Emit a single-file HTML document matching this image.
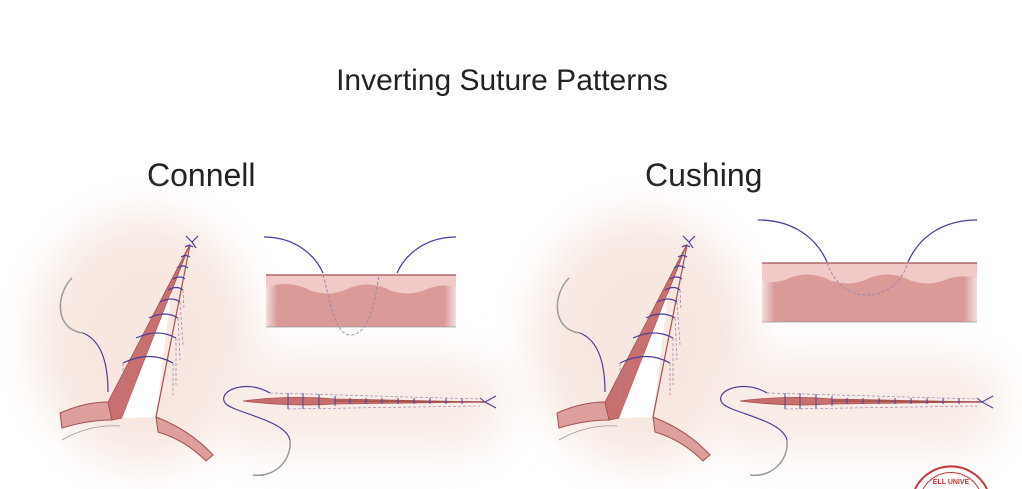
<!DOCTYPE html>
<html><head><meta charset="utf-8"><style>
html,body{margin:0;padding:0;background:#fff;width:1022px;height:489px;overflow:hidden}
svg{display:block}
</style></head><body>
<svg width="1022" height="489" viewBox="0 0 1022 489" xmlns="http://www.w3.org/2000/svg" style="overflow:hidden">
<defs>
<filter id="blur" x="-50%" y="-50%" width="200%" height="200%"><feGaussianBlur stdDeviation="22"/></filter>
<linearGradient id="xs" x1="0" x2="1" y1="0" y2="0">
<stop offset="0" stop-color="#d99a98" stop-opacity="0.3"/><stop offset="0.06" stop-color="#d99a98"/><stop offset="0.94" stop-color="#d99a98"/><stop offset="1" stop-color="#d99a98" stop-opacity="0.3"/></linearGradient>
<g id="panel">
<ellipse cx="145" cy="340" rx="110" ry="125" fill="#f7e7e0" filter="url(#blur)"/>
<rect x="215" y="360" width="290" height="90" rx="40" fill="#f8ebe5" filter="url(#blur)"/>
<!-- lower left tissue band -->
<path d="M60,413 Q85,402 108,402 L112,420 Q88,420 62,428 Z" fill="#dc9f9c" stroke="#a4504f" stroke-width="1"/>
<path d="M62,440 Q90,424 120,426" fill="none" stroke="#999" stroke-width="0.8"/>
<!-- wedge -->
<polygon points="108,402 190,244 122,418 112,420" fill="#c7706f" stroke="#a4504f" stroke-width="0.8"/>
<polygon points="122,418 171,293 156,417" fill="#fff"/>
<path d="M190,245 L156,417" stroke="#a4504f" stroke-width="1.2" fill="none"/>
<path d="M156,417 Q190,430 213,455 L206,461 Q185,440 158,432 Z" fill="#dc9f9c" stroke="#a4504f" stroke-width="1"/>
<!-- sutures -->
<g fill="none" stroke="#4b3f99" stroke-width="1.2">
<path d="M123,363 Q150,350 173,363"/><path d="M136,338 Q158,328 176,338"/>
<path d="M149,318 Q165,310 178,318"/><path d="M160,302 Q172,296 180,302"/>
<path d="M168,290 Q177,285 183,290"/><path d="M173,279 Q180,275 185,279"/>
<path d="M177,268 Q183,264 188,268"/><path d="M181,257 Q186,254 190,257"/>
<path d="M185,247 Q189,244 193,247"/>
<path d="M192,242 L198,236 M192,242 L196,248 M192,242 L186,236"/>
</g>
<g fill="none" stroke="#9a8ab0" stroke-width="0.8" stroke-dasharray="3,2">
<path d="M123,363 L123,400 M173,363 L173,395 M176,338 L176,385 M178,318 L180,360 M180,302 L183,345 M183,290 L184,310"/>
</g>
<!-- left needle -->
<path d="M72,278 C55,295 55,330 83,333" fill="none" stroke="#9a9a9a" stroke-width="1.5"/>
<path d="M83,333 C100,340 108,360 108,392" fill="none" stroke="#4b3f99" stroke-width="1.2"/>
<!-- long incision -->
<path d="M243,401 Q290,395 335,399 L483,402 L335,404 Q290,407 243,401 Z" fill="#c7706f" stroke="#a4504f" stroke-width="0.8"/>
<path d="M335,401 L485,402" stroke="#a4504f" stroke-width="1.5"/>
<g stroke="#4b3f99" stroke-width="1">
<path d="M288,393 V409 M303,393 V409 M319,394 V408 M335,396 V406 M350,398 V404 M366,398 V404 M382,398 V404 M398,398 V404 M414,398 V404 M430,398 V404 M446,398 V404 M462,398 V404"/>
<path d="M485,402 L496,396 M485,402 L496,408 M485,402 L480,398" fill="none"/>
</g>
<path d="M270,393 L480,399 M288,409 L480,406" stroke="#9a8ab0" stroke-width="0.7" stroke-dasharray="3,2"/>
<path d="M270,393 C245,378 215,392 226,404 C238,414 285,420 290,440" fill="none" stroke="#4b3f99" stroke-width="1.2"/>
<path d="M290,440 C292,460 275,478 253,475" fill="none" stroke="#9a9a9a" stroke-width="1.5"/>
</g>
</defs>
<text x="502" y="90" text-anchor="middle" font-family="Liberation Sans, sans-serif" font-size="30" fill="#222">Inverting Suture Patterns</text>
<text x="147" y="186" font-family="Liberation Sans, sans-serif" font-size="32" fill="#222">Connell</text>
<text x="645" y="186" font-family="Liberation Sans, sans-serif" font-size="32" fill="#222">Cushing</text>
<use href="#panel"/>
<use href="#panel" transform="translate(497,0)"/>
<!-- left cross section -->
<rect x="266" y="275" width="190" height="52" fill="url(#xs)"/>
<path d="M266,275 H456 V287 Q440,283 425,290 Q405,298 385,288 Q365,280 345,290 Q325,298 305,288 Q285,280 266,288 Z" fill="#f1c9c6"/>
<path d="M266,275 H456" stroke="#a4504f" stroke-width="1.2"/><path d="M266,327 H456" stroke="#999" stroke-width="0.8"/>
<path d="M264,237 C295,237 315,255 323,273" fill="none" stroke="#4b3f99" stroke-width="1.3"/>
<path d="M397,273 C405,255 425,237 456,237" fill="none" stroke="#4b3f99" stroke-width="1.3"/>
<path d="M323,275 C330,300 335,335 350,335 C370,335 375,300 379,275" fill="none" stroke="#9a8ab0" stroke-width="1" stroke-dasharray="3,2"/>
<!-- right cross section -->
<rect x="762" y="263" width="215" height="59" fill="url(#xs)"/>
<path d="M762,263 H977 V278 Q960,274 945,280 Q925,288 905,278 Q885,270 865,280 Q845,288 825,278 Q805,270 785,280 Q770,284 762,280 Z" fill="#f1c9c6"/>
<path d="M762,263 H977" stroke="#a4504f" stroke-width="1.2"/><path d="M762,322 H977" stroke="#999" stroke-width="0.8"/>
<path d="M758,220 C790,220 815,235 827,262" fill="none" stroke="#4b3f99" stroke-width="1.3"/>
<path d="M908,262 C920,235 945,220 977,220" fill="none" stroke="#4b3f99" stroke-width="1.3"/>
<path d="M827,263 C835,285 850,295 867,295 C885,295 900,285 908,263" fill="none" stroke="#9a8ab0" stroke-width="1" stroke-dasharray="3,2"/>
<!-- seal -->
<path d="M915,489 A40,40 0 0 1 987,489" fill="none" stroke="#c8333a" stroke-width="2"/>
<path d="M923,489 A32,32 0 0 1 979,489" fill="none" stroke="#c8333a" stroke-width="1"/>
<text x="951" y="484" text-anchor="middle" font-family="Liberation Sans, sans-serif" font-size="7" font-weight="bold" fill="#c8333a">ELL UNIVE</text>
</svg>
</body></html>
